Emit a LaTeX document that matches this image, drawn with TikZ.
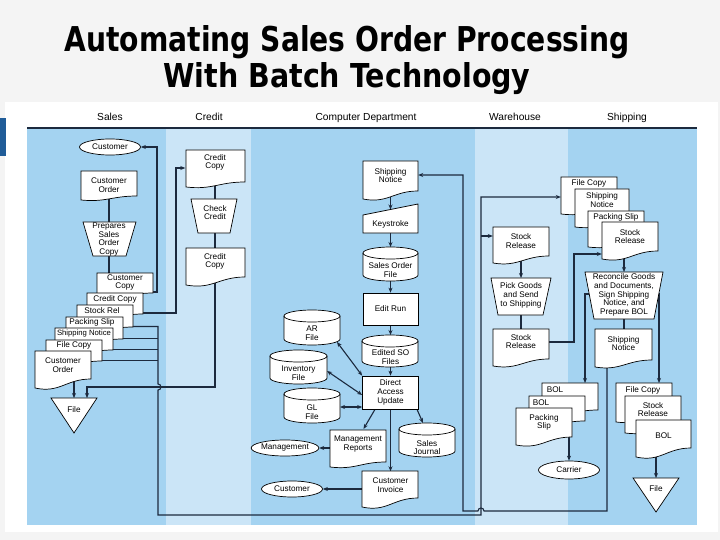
\documentclass[tikz,border=0pt]{standalone}
\usepackage{fontspec}
\setmainfont{Liberation Sans}
\newfontfamily\titlefont{DejaVu Sans}
\usepackage{graphicx}
\usetikzlibrary{shapes.geometric,arrows.meta}
\pgfdeclarelayer{lanes}
\pgfdeclarelayer{conn}
\pgfdeclarelayer{shapes}
\pgfsetlayers{lanes,conn,shapes,main}
\definecolor{midb}{RGB}{164,211,241}
\definecolor{lightb}{RGB}{203,229,247}
\definecolor{lnc}{RGB}{28,42,62}
\definecolor{slidebg}{RGB}{244,244,244}
\definecolor{barb}{RGB}{32,92,152}
\newcommand\smf{\fontsize{8.2}{8.7}\selectfont}
\tikzset{
  shp/.style={draw=black, fill=white, line width=0.7pt},
  txt/.style={font=\smf, align=center, inner sep=0pt},
  ell/.style={shp, ellipse, minimum width=61pt, minimum height=16pt, inner sep=0pt, font=\smf},
  con/.style={draw=lnc, line width=1.1pt},
  arr/.style={con, -{Stealth[length=5pt,width=4pt]}},
  darr/.style={con, {Stealth[length=5pt,width=4pt]}-{Stealth[length=5pt,width=4pt]}},
  lanetitle/.style={font=\fontsize{10.2}{12}\selectfont, inner sep=0pt, anchor=base},
  ttl/.style={font=\titlefont\bfseries, anchor=base, inner sep=0pt},
}
% document shape: x0, y0, x1, y1 (right corner), d (extra drop at left)
\newcommand\docshp[5]{\begin{pgfonlayer}{shapes}\path[shp] (#1,#2) -- (#3,#2) -- (#3,#4) .. controls ({#3-0.45*(#3-#1)},#4) and ({#1+0.45*(#3-#1)},{#4+1.6*#5}) .. (#1,{#4+#5}) -- cycle;\end{pgfonlayer}}
% manual operation: top-left x, top-right x, top y, bottom-left x, bottom-right x, bottom y
\newcommand\trapshp[6]{\begin{pgfonlayer}{shapes}\path[shp] (#1,#3) -- (#2,#3) -- (#5,#6) -- (#4,#6) -- cycle;\end{pgfonlayer}}
% disk: x0, y0, x1, y1, rim radius
\newcommand\cylshp[5]{\begin{pgfonlayer}{shapes}\path[shp] (#1,{#2+#5}) -- (#1,{#4-#5}) arc[start angle=180,end angle=0,x radius={(#3-#1)/2},y radius=#5] -- (#3,{#2+#5}) arc[start angle=0,end angle=-180,x radius={(#3-#1)/2},y radius=#5] -- cycle;
\draw[line width=0.7pt] (#1,{#2+#5}) arc[start angle=180,end angle=0,x radius={(#3-#1)/2},y radius=#5];\end{pgfonlayer}}
% file triangle: x0, x1, top y, apex y
\newcommand\trishp[4]{\begin{pgfonlayer}{shapes}\path[shp] (#1,#3) -- (#2,#3) -- ({(#1+#2)/2},#4) -- cycle;\end{pgfonlayer}}
\begin{document}
\begin{tikzpicture}[x=1pt,y=-1pt]
\useasboundingbox (0,0) rectangle (720,540);
\begin{pgfonlayer}{lanes}
\fill[slidebg] (0,0) rectangle (720,540);
\fill[white] (5,102) rectangle (718,532);
\fill[barb] (0,118) rectangle (6,156);
\fill[midb] (27,128) rectangle (166,525);
\fill[lightb] (166,128) rectangle (251,525);
\fill[midb] (251,128) rectangle (475,525);
\fill[lightb] (475,128) rectangle (568,525);
\fill[midb] (568,128) rectangle (697,525);
\draw[lnc, line width=1.3pt] (27,128) -- (697,128);
\end{pgfonlayer}

% title
\node[ttl] (title1) at (347,52) {\resizebox{565pt}{26pt}{Automating Sales Order Processing}};
\node[ttl] (title2) at (347,88) {\resizebox{367pt}{25pt}{With Batch Technology}};

% lane titles
\node[lanetitle] (hSales) at (110,121) {Sales};
\node[lanetitle] (hCredit) at (209,121) {Credit};
\node[lanetitle] (hComp) at (366,121) {Computer Department};
\node[lanetitle] (hWare) at (515,121) {Warehouse};
\node[lanetitle] (hShip) at (627,121) {Shipping};

% ---------- Sales ----------
\node[ell] (cust1) at (110,147) {Customer};
\docshp{81}{171}{137}{196}{4}
\node[txt] (corder) at (109,185) {Customer\\Order};
\trapshp{83}{136}{222}{93}{126}{256}
\node[txt, font=\fontsize{8.2}{8.5}\selectfont] (prep) at (109,239.5) {Prepares\\Sales\\Order\\Copy};
\docshp{97}{273}{153}{293}{5}
\node[txt] (sCustCopy) at (125,282.5) {Customer\\Copy};
\docshp{87}{293}{143}{314}{5}
\node[txt] (sCreditCopy) at (115,299) {Credit Copy};
\docshp{77}{305}{133}{327}{5}
\node[txt] (sStockRel) at (102,311) {Stock Rel};
\docshp{66}{317}{123}{339}{5}
\node[txt] (sPackSlip) at (92,322.5) {Packing Slip};
\docshp{55}{328}{113}{350}{5}
\node[txt, font=\fontsize{7.7}{8.7}\selectfont] (sShipNot) at (84,334) {Shipping Notice};
\docshp{46}{340}{102}{361}{5}
\node[txt] (sFileCopy) at (74,345.5) {File Copy};
\docshp{35}{351}{91}{379}{9}
\node[txt] (sCustOrder) at (63,365.5) {Customer\\Order};
\trishp{51}{97}{398}{433}
\node[txt] (file1) at (74,410) {File};
\coordinate (file1in) at (87,398);

% ---------- Credit ----------
\docshp{186}{150}{245}{182}{5}
\node[txt, minimum width=59pt] (cCopy1) at (215,162.5) {Credit\\Copy};
\trapshp{191}{237}{199}{198}{230}{233}
\node[txt] (chk) at (215,212.5) {Check\\Credit};
\docshp{186}{248}{245}{277}{8}
\node[txt] (cCopy2) at (215,261.5) {Credit\\Copy};

% ---------- Computer Department ----------
\docshp{363}{161}{418}{191}{8}
\node[txt, minimum width=55pt] (cShip) at (390.5,175.5) {Shipping\\Notice};
\begin{pgfonlayer}{shapes}
\path[shp] (363,215) -- (418,204) -- (418,233) -- (363,233) -- cycle;
\end{pgfonlayer}
\node[txt] (kst) at (390.5,224) {Keystroke};
\cylshp{363}{247}{418}{281}{6}
\node[txt] (soFile) at (390.5,270) {Sales Order\\File};
\node[shp, txt, minimum width=55pt, minimum height=32pt] (edit) at (390.5,309) {Edit Run};
\cylshp{362}{335}{418}{367}{6}
\node[txt] (edSO) at (390.5,357) {Edited SO\\Files};
\node[shp, txt, minimum width=56pt, minimum height=33pt] (dau) at (390.5,392.5) {Direct\\Access\\Update};
\cylshp{284}{310}{340}{345}{6}
\node[txt] (arF) at (312,333) {AR\\File};
\cylshp{270}{350}{327}{384}{6}
\node[txt] (invF) at (298.5,373.5) {Inventory\\File};
\cylshp{284}{388}{340}{423}{6}
\node[txt] (glF) at (312,412.5) {GL\\File};
\docshp{330}{430}{386}{462}{5}
\node[txt] (mgmtR) at (358,444) {Management\\Reports};
\cylshp{399}{423}{455}{457}{6}
\node[txt] (sj) at (427,447.5) {Sales\\Journal};
\docshp{362}{471}{418}{498}{9}
\node[txt, minimum width=56pt, minimum height=27pt] (ci) at (390.5,485) {Customer\\Invoice};
\node[ell, minimum width=64pt] (mgmt) at (285,448) {Management};
\node[ell] (cust2) at (292,489) {Customer};
\coordinate (arOut) at (337,342);
\coordinate (invOut) at (327,371);
\coordinate (glOut) at (340,407);
\coordinate (mrIn) at (363.5,429);
\coordinate (sjIn) at (423,423);

% ---------- Warehouse ----------
\docshp{493}{227}{549}{256}{7}
\node[txt, minimum width=56pt] (wSR1) at (521,241) {Stock\\Release};
\trapshp{491}{551}{278}{498}{543}{315}
\node[txt] (pick) at (521,295.5) {Pick Goods\\and Send\\to Shipping};
\docshp{493}{329}{549}{359}{7}
\node[txt, minimum width=56pt] (wSR2) at (521,341.5) {Stock\\Release};
\coordinate (wbus) at (481,236);

% ---------- Shipping ----------
\docshp{561}{177}{617}{209}{5}
\node[txt, minimum width=56pt] (sFileS) at (589,183) {File Copy};
\docshp{575}{189}{629}{222}{5}
\node[txt] (sShipS) at (602,200) {Shipping\\Notice};
\docshp{588}{211}{644}{242}{5}
\node[txt] (sPackS) at (616,217) {Packing Slip};
\docshp{602}{222}{658}{251}{8}
\node[txt, minimum width=56pt] (sSRS) at (630,236.5) {Stock\\Release};
\trapshp{585}{663}{272}{594}{654}{319}
\node[txt] (recon) at (624,295) {Reconcile Goods\\and Documents,\\Sign Shipping\\Notice, and\\Prepare BOL};
\docshp{595}{329}{652}{360}{7}
\node[txt, minimum width=57pt] (shNot2) at (623.5,343.5) {Shipping\\Notice};
\docshp{542}{383}{598}{410}{5}
\node[txt] (sBOL1) at (555,389.5) {BOL};
\docshp{529}{396}{585}{421}{5}
\node[txt] (sBOL2) at (541,402.5) {BOL};
\docshp{516}{408}{572}{437}{8}
\node[txt] (sPackB) at (544,422.5) {Packing\\Slip};
\node[ell, minimum height=18pt] (carrier) at (569,470) {Carrier};
\docshp{616}{383}{672}{417}{5}
\node[txt] (sFC2) at (643,390) {File Copy};
\docshp{625}{396}{681}{428}{5}
\node[txt] (sSR2) at (653,409.5) {Stock\\Release};
\docshp{636}{420}{691}{448}{9}
\node[txt] (sBOL3) at (663.5,436) {BOL};
\trishp{633}{679}{478}{512}
\node[txt] (file2) at (656,489) {File};
\coordinate (bolIn) at (585,383);
\coordinate (fcIn) at (659,383);

% ---------- connectors ----------
\begin{pgfonlayer}{conn}
% sales
\draw[con] (corder) -- (prep);
\draw[con] (prep) -- (prep |- sCustCopy);
\draw[arr] (sCustCopy |- 0,292) -- (157,292) |- (cust1.east);
\draw[arr] (sCreditCopy |- 0,313) -- (176,313) |- (cCopy1.west |- 0,168);
\draw[con] (sPackSlip |- 0,338.5) -- (158,338.5);
\draw[con] (sShipNot |- 0,349.5) -- (158,349.5);
\draw[con] (sFileCopy |- 0,360.5) -- (158,360.5);
\draw[arr] (sStockRel |- 0,326.5) -- (158,326.5) -- (158,384) arc[start angle=-90,end angle=90,radius=3] -- (158,515) -| (481,197) -- (sFileS.west |- 0,197);
\draw[arr] (wbus) -- (wSR1.west |- wbus);
\draw[arr] (sCustOrder -| file1) -- (file1 |- 0,398);
% credit
\draw[con] (cCopy1) -- (chk);
\draw[con] (chk) -- (cCopy2);
\draw[arr] (cCopy2) -- (cCopy2 |- 0,387) -| (file1in);
% computer department
\draw[arr] (cShip) -- (kst |- 0,209.5);
\draw[arr] (kst) -- (soFile |- 0,247);
\draw[arr] (soFile) -- (edit.north);
\draw[arr] (edit) -- (edSO |- 0,335);
\draw[arr] (edSO) -- (dau.north);
\draw[darr] (arOut) -- (dau.north west);
\draw[darr] (invOut) -- (dau.west |- 0,395);
\draw[darr] (glOut) -- (dau.west |- glOut);
\draw[arr] (dau.south -| 375,0) -- (mrIn);
\draw[arr] (dau.south -| 417,0) -- (sjIn);
\draw[arr] (dau) -- (ci.north);
\draw[arr] (mgmtR |- mgmt) -- (mgmt.east);
\draw[arr] (ci |- cust2) -- (cust2.east);
% warehouse
\draw[arr] (wSR1) -- (pick |- 0,278);
\draw[con] (pick) -- (wSR2);
\draw[arr] (wSR2 |- 0,342) -- (574,342) |- (sSRS.west |- 0,254);
% shipping
\draw[arr] (recon |- sSRS) -- (recon |- 0,272);
\draw[con] (recon) -- (recon |- shNot2);
\draw[arr] (recon |- 0,294) -| (bolIn);
\draw[arr] (recon |- 0,294) -| (fcIn);
\draw[arr] (sPackB -| carrier) -- (carrier.north);
\draw[arr] (sBOL3 -| file2) -- (file2 |- 0,478);
\draw[arr] (shNot2 -| 607,0) -- (607,511) -- (484,511) arc[start angle=0,end angle=-180,radius=3] -- (463,511) |- (cShip.east |- 0,175);
\end{pgfonlayer}
\end{tikzpicture}
\end{document}
